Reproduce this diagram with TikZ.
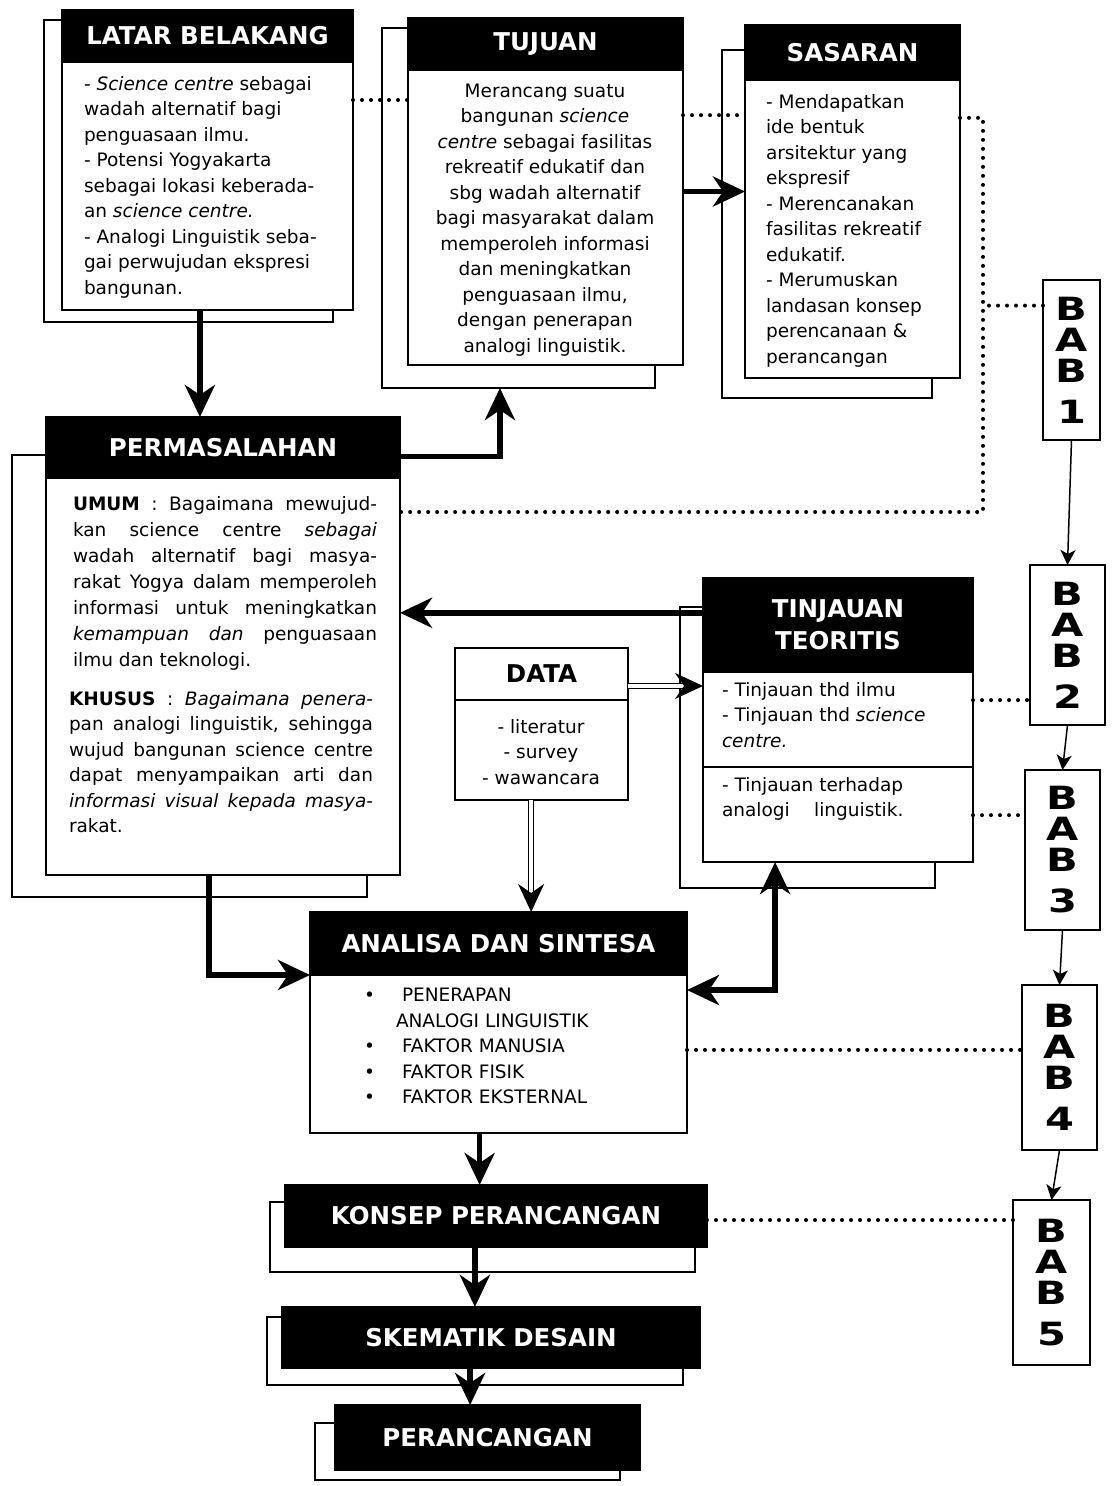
\documentclass[tikz,border=0pt]{standalone}
\usepackage{fontspec}
\setmainfont{DejaVu Sans}
\usetikzlibrary{arrows.meta,calc,fit}
\newcommand\jl[1]{\makebox[304pt][s]{#1}}
\newcommand\bl[1]{\scalebox{1.3}[1]{#1}}
\newcommand\babtxt[1]{\bl{B}\\\bl{A}\\\bl{B}\\[10pt]\bl{#1}}
\begin{document}
\begin{tikzpicture}[x=1pt,y=-1pt,
  every node/.style={inner sep=0pt,outer sep=0pt},
  boxst/.style={draw,line width=1.5pt,fill=white},
  hdr/.style={draw,line width=1.5pt,fill=black},
  htxt/.style={text=white,align=center,font=\fontsize{24.5}{32}\selectfont\bfseries},
  body/.style={font=\fontsize{18.5}{25.5}\selectfont,align=left,anchor=north west},
  babst/.style={draw,line width=1.5pt,fill=white},
  btxt/.style={align=center,font=\fontsize{32}{31}\selectfont\bfseries},
  arr/.style={line width=5.5pt,-{Stealth[length=32pt,width=30pt,inset=10pt]}},
  arrtwo/.style={line width=5.5pt,{Stealth[length=32pt,width=30pt,inset=10pt]}-{Stealth[length=32pt,width=30pt,inset=10pt]}},
  dbl/.style={double,double distance=3.5pt,line width=1.5pt,-{Stealth[length=28pt,width=26pt,inset=9pt]}},
  dots/.style={line width=4pt,line cap=round,dash pattern=on 0pt off 9pt},
  tarr/.style={line width=1.5pt,-{Stealth[length=15pt,width=15pt,inset=4pt]}}
]
\useasboundingbox (0,0) rectangle (1113,1486);

% LATAR BELAKANG
\node[boxst,fit={(44,20)(333,322)}] (latb) {};
\node[boxst,fit={(62,10)(353,310)}] (lat) {};
\node[hdr,fit={(62,10)(353,62)}] (lath) {};
\node[htxt] (latht) at (lath.center) {LATAR BELAKANG};
\node[body] (latt) at (84,76) {- \textit{Science centre} sebagai\\
wadah alternatif bagi\\
penguasaan ilmu.\\
- Potensi Yogyakarta\\
sebagai lokasi keberada-\\
an \textit{science centre.}\\
- Analogi Linguistik seba-\\
gai perwujudan ekspresi\\
bangunan.};

% TUJUAN
\node[boxst,fit={(382,28)(655,388)}] (tujb) {};
\node[boxst,fit={(408,18)(683,365)}] (tuj) {};
\node[hdr,fit={(408,18)(683,70)}] (tujh) {};
\node[htxt] (tujht) at (tujh.center) {TUJUAN};
\node[body,anchor=north,align=center] (tujt) at (545,84) {Merancang suatu\\
bangunan \textit{science}\\
\textit{centre} sebagai fasilitas\\
rekreatif edukatif dan\\
sbg wadah alternatif\\
bagi masyarakat dalam\\
memperoleh informasi\\
dan meningkatkan\\
penguasaan ilmu,\\
dengan penerapan\\
analogi linguistik.};

% SASARAN
\node[boxst,fit={(722,50)(932,398)}] (sasb) {};
\node[boxst,fit={(745,25)(960,378)}] (sas) {};
\node[hdr,fit={(745,25)(960,80)}] (sash) {};
\node[htxt] (sasht) at (sash.center) {SASARAN};
\node[body] (sast) at (766,94) {- Mendapatkan\\
ide bentuk\\
arsitektur yang\\
ekspresif\\
- Merencanakan\\
fasilitas rekreatif\\
edukatif.\\
- Merumuskan\\
landasan konsep\\
perencanaan \&\\
perancangan};

% PERMASALAHAN
\node[boxst,fit={(12,455)(367,897)}] (permb) {};
\node[boxst,fit={(46,417)(400,875)}] (perm) {};
\node[hdr,fit={(46,417)(400,478)}] (permh) {};
\node[htxt] (permht) at (permh.center) {PERMASALAHAN};
\node[body,font=\fontsize{18.5}{26}\selectfont] (umum) at (73,496) {\jl{\textbf{UMUM} : Bagaimana mewujud-}\\
\jl{kan science centre \textit{sebagai}}\\
\jl{wadah alternatif bagi masya-}\\
\jl{rakat Yogya dalam memperoleh}\\
\jl{informasi untuk meningkatkan}\\
\jl{\textit{kemampuan} \textit{dan} penguasaan}\\
ilmu dan teknologi.};
\node[body] (khusus) at (69,691) {\jl{\textbf{KHUSUS} : \textit{Bagaimana} \textit{penera-}}\\
\jl{pan analogi linguistik, sehingga}\\
\jl{wujud bangunan science centre}\\
\jl{dapat menyampaikan arti dan}\\
\jl{\textit{informasi} \textit{visual} \textit{kepada} \textit{masya-}}\\
rakat.};

% DATA
\node[boxst,fit={(455,648)(628,800)}] (data) {};
\node[boxst,fit={(455,648)(628,700)}] (datah) {};
\node[htxt,text=black] (dataht) at (datah.center) {DATA};
\node[body,anchor=north,align=center] (datat) at (541,719) {- literatur\\- survey\\- wawancara};

% TINJAUAN TEORITIS
\node[boxst,fit={(680,607)(935,888)}] (tinb) {};
\node[boxst,fit={(703,578)(973,862)}] (tin) {};
\node[hdr,fit={(703,578)(973,672)}] (tinh) {};
\node[htxt] (tinht) at (tinh.center) {TINJAUAN\\TEORITIS};
\node[boxst,fit={(703,767)(973,862)}] (tinl) {};
\node[body] (tint1) at (722,682) {- Tinjauan thd ilmu\\
- Tinjauan thd \textit{science}\\
\textit{centre.}};
\node[body] (tint2) at (722,777) {- Tinjauan terhadap\\
analogi\quad\ linguistik.};

% ANALISA DAN SINTESA
\node[boxst,fit={(310,912)(687,1133)}] (ana) {};
\node[hdr,fit={(310,912)(687,975)}] (anah) {};
\node[htxt] (anaht) at (anah.center) {ANALISA DAN SINTESA};
\node[body] (anat) at (364,984) {\begin{tabular}{@{}p{38pt}@{}l@{}}
\textbullet&PENERAPAN\\
&\hspace{-6pt}ANALOGI LINGUISTIK\\
\textbullet&FAKTOR MANUSIA\\
\textbullet&FAKTOR FISIK\\
\textbullet&FAKTOR EKSTERNAL
\end{tabular}};

% bottom chain
\node[boxst,fit={(270,1202)(695,1272)}] (konb) {};
\node[hdr,fit={(285,1185)(707,1247)}] (kon) {};
\node[htxt] (kont) at (kon.center) {KONSEP PERANCANGAN};
\node[boxst,fit={(267,1317)(683,1385)}] (skeb) {};
\node[hdr,fit={(282,1307)(700,1368)}] (ske) {};
\node[htxt] (sket) at (ske.center) {SKEMATIK DESAIN};
\node[boxst,fit={(315,1423)(620,1480)}] (perb) {};
\node[hdr,fit={(335,1405)(640,1470)}] (per) {};
\node[htxt] (pert) at (per.center) {PERANCANGAN};

% BAB column
\node[babst,fit={(1043,280)(1100,440)}] (bab1) {};
\node[btxt] (bab1t) at (bab1.center) {\babtxt{1}};
\node[babst,fit={(1030,565)(1105,725)}] (bab2) {};
\node[btxt] (bab2t) at (bab2.center) {\babtxt{2}};
\node[babst,fit={(1025,770)(1100,930)}] (bab3) {};
\node[btxt] (bab3t) at (bab3.center) {\babtxt{3}};
\node[babst,fit={(1022,985)(1097,1150)}] (bab4) {};
\node[btxt] (bab4t) at (bab4.center) {\babtxt{4}};
\node[babst,fit={(1013,1200)(1090,1365)}] (bab5) {};
\node[btxt] (bab5t) at (bab5.center) {\babtxt{5}};

% thick arrows
\draw[arr] ($(lat.south west)!.474!(lat.south east)$) coordinate (c1) -- (c1 |- permh.north);
\draw[arr] ($(permh.north east)!.65!(permh.south east)$) -| ($(tujb.south west)!.432!(tujb.south east)$);
\draw[arr] (tuj.east) -- (tuj.east -| sas.west);
\draw[arr] ($(tinh.north west)!.37!(tinh.south west)$) coordinate (c4) -- (c4 -| perm.east);
\draw[dbl] ($(datah.north east)!.73!(datah.south east)$) coordinate (c5) -- (c5 -| tin.west);
\draw[dbl] ($(data.south west)!.44!(data.south east)$) coordinate (c6) -- (c6 |- anah.north);
\draw[arr] ($(perm.south west)!.46!(perm.south east)$) |- ($(ana.north west)!.285!(ana.south west)$);
\draw[arrtwo] ($(ana.north east)!.353!(ana.south east)$) -| ($(tin.south west)!.267!(tin.south east)$);
\draw[arr] ($(ana.south west)!.45!(ana.south east)$) coordinate (c9) -- (c9 |- kon.north);
\draw[arr] ($(kon.south west)!.45!(kon.south east)$) coordinate (c10) -- (c10 |- ske.north);
\draw[arr] ($(ske.south west)!.45!(ske.south east)$) coordinate (c11) -- (c11 |- per.north);

% dotted links
\coordinate (vx) at (983,512);
\draw[dots] ($(lat.north east)!.3!(lat.south east)$) coordinate (d1) -- (d1 -| tuj.west);
\draw[dots] ($(tuj.north east)!.28!(tuj.south east)$) coordinate (d2) -- (d2 -| sas.west);
\draw[dots] ($(sas.north east)!.263!(sas.south east)$) -| (vx) -- (vx -| perm.east);
\draw[dots] ($(bab1.north west)!.16!(bab1.south west)$) coordinate (d4) -- (d4 -| vx);
\draw[dots] ($(tin.north east)!.43!(tin.south east)$) coordinate (d5) -- (d5 -| bab2.west);
\draw[dots] ($(tin.north east)!.835!(tin.south east)$) coordinate (d6) -- (d6 -| bab3.west);
\draw[dots] ($(ana.north east)!.624!(ana.south east)$) coordinate (d7) -- (d7 -| bab4.west);
\draw[dots] ($(kon.north east)!.565!(kon.south east)$) coordinate (d8) -- (d8 -| bab5.west);

% BAB arrows
\draw[tarr] (bab1.south) -- (bab2.north);
\draw[tarr] (bab2.south) -- (bab3.north);
\draw[tarr] (bab3.south) -- (bab4.north);
\draw[tarr] (bab4.south) -- (bab5.north);
\end{tikzpicture}
\end{document}
